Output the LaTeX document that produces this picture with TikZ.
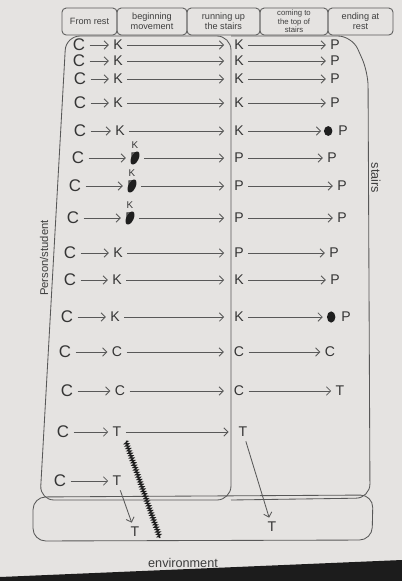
\documentclass[tikz,border=0pt]{standalone}
\usepackage{fontspec}
\setmainfont{Liberation Sans}
\usetikzlibrary{arrows.meta, positioning, decorations.pathmorphing}
\definecolor{paper}{RGB}{229,227,225}
\definecolor{pencil}{RGB}{88,88,88}
\definecolor{tabletop}{RGB}{28,28,28}

\begin{document}
\begin{tikzpicture}[x=0.025cm, y=-0.025cm, >={Straight Barb[length=3pt,width=6pt]},
    pen/.style={draw=pencil, line width=0.6pt},
    hcell/.style={pen, rounded corners=3pt, minimum height=0.675cm, inner sep=1pt,
      align=center, text=pencil!70!black, font=\fontsize{6.5}{7}\selectfont},
    ltr/.style={text=pencil!60!black, inner sep=3pt},
    inkblot/.style={fill=pencil!35!black}]
    % paper and the table edge at the bottom
    \fill[paper] (0,0) rectangle (402,581);
    \fill[tabletop] (0,581) -- (0,577) -- (402,560) -- (402,581) -- cycle;
    \useasboundingbox (0,0) rectangle (402,581);

    % Header cells
    \node[hcell, minimum width=1.375cm] (rest1) at (89.5,21.5) {From rest};
    \node[hcell, minimum width=1.75cm] (begin) at (152,21.5) {beginning\\movement};
    \node[hcell, minimum width=1.825cm] (run) at (223.5,21.5) {running up\\the stairs};
    \node[hcell, minimum width=1.7cm, font=\fontsize{5.5}{6}\selectfont] (top) at (294,21.5) {coming to\\the top of\\stairs};
    \node[hcell, minimum width=1.625cm] (rest2) at (360.5,21.5) {ending at\\rest};

    % Person/student, stairs and environment boxes
    \draw[pen, rounded corners=9pt] (33,497) -- (33,541) -- (372,540) -- (373,495) -- cycle;
    \draw[pen, rounded corners=10pt] (66,36) -- (231,36) -- (231,500) -- (40,500) -- cycle;
    \draw[pen, rounded corners=10pt] (231,36) -- (352,36) -- (368,72) -- (370,498) -- (231,500);
    \node[rotate=90, text=pencil!70!black, font=\footnotesize] (who) at (44,258) {Person/student};
    \node[rotate=-90, text=pencil!70!black, font=\small] (where) at (376,178) {stairs};
    \node[text=pencil!70!black, font=\small] (env) at (183,563) {environment};

    % Rows: C -> first letter -> stairs letter -> last letter
    \foreach \i/\yy/\xc/\xx/\xz/\sh/\a/\b/\c in {
        1/45/79/118/335/0/K/K/P, 2/61/79/118/335/0/K/K/P, 3/79/80/118/335/0/K/K/P,
        4/103/80/118/335/0/K/K/P, 5/131/80/120/343/9/K/K/P, 6/158/78/135/332/0/P/P/P,
        7/186/75/132/342/0/P/P/P, 8/218/73/130/342/0/P/P/P, 9/253/70/118/334/0/K/P/P,
        10/280/70/117/335/0/K/K/P, 11/317/67/115/346/10/K/K/P, 12/352/65/117/330/0/C/C/C,
        13/391/67/120/340/0/C/C/T}
    {
        \node[ltr, font=\large] (c\i) at (\xc,\yy) {C};
        \node[ltr] (x\i) at (\xx,\yy) {\a};
        \node[ltr] (y\i) at (239,\yy) {\b};
        \node[ltr] (z\i) at (\xz,\yy) {\c};
        \draw[pen, ->] (c\i) -- (x\i);
        \draw[pen, ->, shorten >=4pt] (x\i) -- (y\i);
        \draw[pen, ->, shorten >=\sh pt] (y\i) -- (z\i);
    }

    % last two rows end in the environment
    \node[ltr, font=\large] (c14) at (63,432) {C};
    \node[ltr] (x14) at (117,432) {T};
    \node[ltr] (y14) at (243,432) {T};
    \node[ltr, font=\large] (c15) at (60,481) {C};
    \node[ltr] (x15) at (117,481) {T};
    \node[ltr] (t1) at (135,532) {T};
    \node[ltr] (t2) at (272,527) {T};
    \draw[pen, ->] (c14) -- (x14);
    \draw[pen, ->, shorten >=4pt] (x14) -- (y14);
    \draw[pen, ->] (c15) -- (x15);
    \draw[pen, ->] (x15) -- (t1);
    \draw[pen, ->] (y14) -- (t2);

    % scribbled out arrow
    \coordinate (scrend) at (160,538);
    \draw[draw=pencil!35!black, line width=0.9pt, decorate,
      decoration={zigzag, amplitude=1.2pt, segment length=1.8pt}] (x14.south east) -- (scrend);

    % crossed out letters
    \foreach \i in {6,7,8} {
        \fill[inkblot, rotate around={-25:(x\i)}] (x\i) ellipse (2.6pt and 5pt);
        \node[ltr, font=\scriptsize, above=-3pt of x\i] (k\i) {K};
    }
    \fill[inkblot] ([xshift=-4pt]z5.west) ellipse (3pt and 3.5pt);
    \fill[inkblot] ([xshift=-4pt]z11.west) ellipse (3pt and 4pt);
\end{tikzpicture}
\end{document}
